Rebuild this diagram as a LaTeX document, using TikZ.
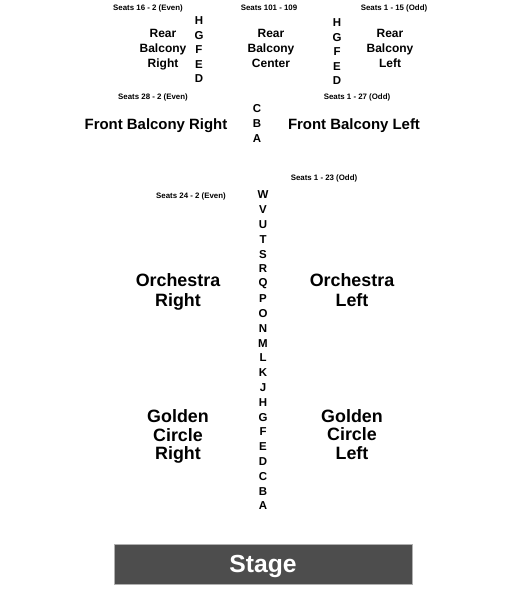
\documentclass[tikz,border=0pt]{standalone}
\usepackage{fontspec}
\setmainfont{Liberation Sans}
\begin{document}
\begin{tikzpicture}[x=0.75pt,y=-0.75pt,
  seatlbl/.style={font=\fontsize{5.9pt}{7pt}\selectfont\bfseries, inner sep=0pt, anchor=center},
  rowlbl/.style={font=\fontsize{8.6pt}{10pt}\selectfont\bfseries, inner sep=0pt, anchor=center},
  rearsec/.style={font=\fontsize{9pt}{11.2pt}\selectfont\bfseries, align=center, inner sep=0pt, anchor=center},
  frontsec/.style={font=\fontsize{11.2pt}{13pt}\selectfont\bfseries, inner sep=0pt, anchor=center},
  orchsec/.style={font=\fontsize{13.4pt}{14.6pt}\selectfont\bfseries, align=center, inner sep=0pt, anchor=center},
  goldsec/.style={font=\fontsize{13.4pt}{14pt}\selectfont\bfseries, align=center, inner sep=0pt, anchor=center},
  stagebox/.style={fill=stagegray, draw=stageedge, line width=0.6pt}
]
\definecolor{stagegray}{HTML}{4D4D4D}
\definecolor{stageedge}{HTML}{B0B0B0}
\useasboundingbox (0,0) rectangle (525,600);

% Rear balcony
\node[seatlbl] (s1) at (148,8) {Seats 16 - 2 (Even)};
\node[seatlbl] (s2) at (269,8) {Seats 101 - 109};
\node[seatlbl] (s3) at (394,8) {Seats 1 - 15 (Odd)};
\node[rearsec] (rbr) at (163,50) {Rear\\Balcony\\Right};
\node[rearsec] (rbc) at (271,48) {Rear\\Balcony\\Center};
\node[rearsec] (rbl) at (390,48) {Rear\\Balcony\\Left};
\foreach \l [count=\i] in {H,G,F,E,D} {
  \node[rowlbl] (rl\l) at (199,{21+14.5*(\i-1)}) {\l};
  \node[rowlbl] (rr\l) at (337,{23+14.5*(\i-1)}) {\l};
}

% Front balcony
\node[seatlbl] (s4) at (153,97) {Seats 28 - 2 (Even)};
\node[seatlbl] (s5) at (357,97) {Seats 1 - 27 (Odd)};
\node[frontsec] (fbr) at (156,126) {Front Balcony Right};
\node[frontsec] (fbl) at (354,126) {Front Balcony Left};
\foreach \l [count=\i] in {C,B,A} {
  \node[rowlbl] (fb\l) at (257,{109+15*(\i-1)}) {\l};
}

% Orchestra
\node[seatlbl] (s6) at (324,178) {Seats 1 - 23 (Odd)};
\node[seatlbl] (s7) at (191,196) {Seats 24 - 2 (Even)};
\foreach \l [count=\i] in {W,V,U,T,S,R,Q,P,O,N,M,L,K,J,H,G,F,E,D,C,B,A} {
  \node[rowlbl] (or\l) at (263,{195+14.81*(\i-1)}) {\l};
}
\node[orchsec] (orr) at (178,292) {Orchestra\\Right};
\node[orchsec] (orl) at (352,290) {Orchestra\\Left};
\node[goldsec] (gcr) at (178,436.5) {Golden\\Circle\\Right};
\node[goldsec] (gcl) at (352,434.5) {Golden\\Circle\\Left};

% Stage
\node[stagebox, minimum width=298*0.75pt, minimum height=40*0.75pt, inner sep=0pt] (stage) at (263,564) {};
\node[font=\fontsize{18.5pt}{20pt}\selectfont\bfseries, text=white, inner sep=0pt, yshift=-1.5pt] (stagetxt) at (stage.center) {Stage};
\end{tikzpicture}
\end{document}
